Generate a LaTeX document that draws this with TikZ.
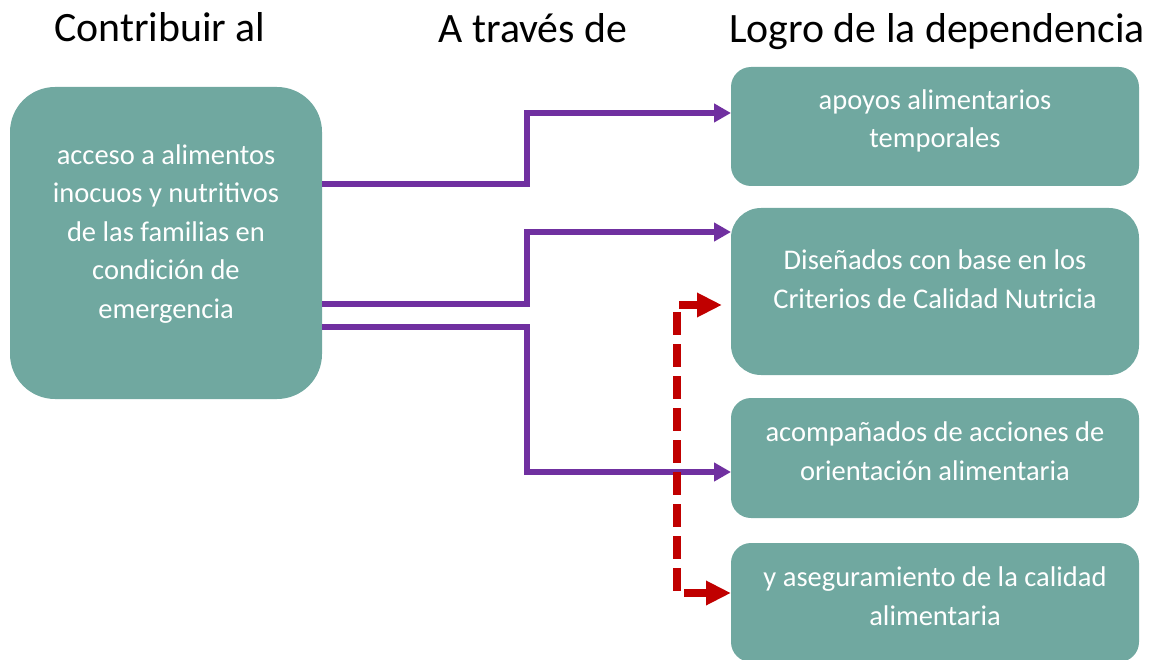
\documentclass[tikz,border=0pt]{standalone}
\usepackage{fontspec}
\setmainfont{Carlito}
\usetikzlibrary{arrows.meta,calc}
\definecolor{tealbox}{RGB}{112,168,160}
\definecolor{purp}{RGB}{112,48,160}
\definecolor{redd}{RGB}{192,0,0}
\begin{document}
\begin{tikzpicture}[x=1pt,y=-1pt,
 box/.style={fill=tealbox, draw=none, inner sep=0pt, outer sep=0pt, minimum width=408pt},
 hdr/.style={font=\fontsize{41.8}{49}\selectfont, anchor=base, inner sep=0pt},
 lbl/.style={font=\fontsize{28.5}{38.5}\selectfont, text=white, align=center, anchor=base, inner sep=0pt},
 parr/.style={draw=purp, line width=5.5pt, -{Triangle[length=17pt,width=18pt]}},
 rarr/.style={draw=redd, line width=8pt, dash pattern=on 23pt off 9pt, dash phase=3pt, {Triangle[length=25pt,width=23pt]}-{Triangle[length=25pt,width=23pt]}},
]
\useasboundingbox (0,0) rectangle (1155,660);
\clip (0,0) rectangle (1155,660);

% headers
\node[hdr] (h1) at (160,42) {Contribuir al};
\node[hdr] (h2) at (533,43) {A través de};
\node[hdr] (h3) at (937,43) {Logro de la dependencia};

% boxes
\node[box, minimum width=312pt, minimum height=312pt, rounded corners=45pt] (b0) at (166,243) {};
\node[box, minimum height=119pt, rounded corners=20pt] (b1) at (935,126.5) {};
\node[box, minimum height=167pt, rounded corners=30pt] (b2) at (935,291.5) {};
\node[box, minimum height=120pt, rounded corners=20pt] (b3) at (935,458) {};
\node[box, minimum height=119pt, rounded corners=20pt] (b4) at (935,602.5) {};

% labels (base anchor = baseline of last line)
\node[lbl] (t0) at (166,318) {acceso a alimentos\\inocuos y nutritivos\\de las familias en\\condición de\\emergencia};
\node[lbl] (t1) at (935,148) {apoyos alimentarios\\temporales};
\node[lbl] (t2) at (935,308) {Diseñados con base en los\\Criterios de Calidad Nutricia};
\node[lbl] (t3) at (935,480) {acompañados de acciones de\\orientación alimentaria};
\node[lbl] (t4) at (935,625) {y aseguramiento de la calidad\\alimentaria};

% purple connectors
\draw[parr] (b0.east |- 0,184) -- (527,184) |- (b1.west |- 0,113);
\draw[parr] (b0.east |- 0,304) -- (527,304) |- (b2.west |- 0,232);
\draw[parr] (b0.east |- 0,327) -- (527,327) |- (b3.west |- 0,472);

% red dashed connector
\coordinate (rtip) at (722,305);
\draw[rarr] (rtip) -- (677,305) -- (677,593) -- (b4.west |- 0,593);
\end{tikzpicture}
\end{document}
